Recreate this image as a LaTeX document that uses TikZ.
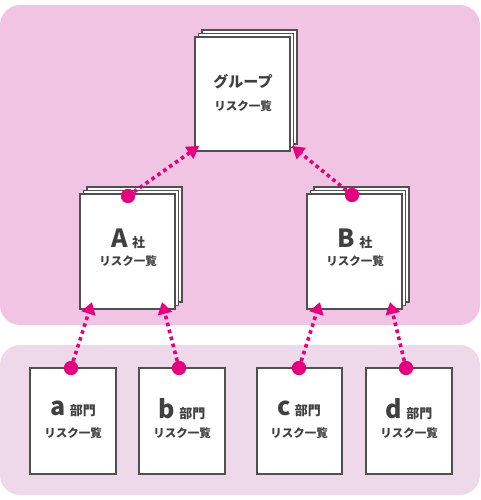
\documentclass[tikz,border=0pt]{standalone}
\usepackage{fontspec}
\setmainfont{Noto Sans CJK JP}
\usetikzlibrary{arrows.meta}
\definecolor{bgtop}{RGB}{240,196,226}
\definecolor{bgbot}{RGB}{237,217,234}
\definecolor{mag}{RGB}{228,0,127}
\definecolor{edge}{RGB}{80,80,80}
\definecolor{txt}{RGB}{64,64,64}
\tikzset{
  page/.style={draw=edge, line width=1.6pt, fill=white, inner sep=0pt},
  dotc/.style={circle, fill=mag, inner sep=0pt, minimum size=14pt},
  link/.style={mag, line width=3.6pt, dash pattern=on 3.6pt off 3.6pt, -{Triangle[length=12pt,width=14pt]}},
  mid/.style={font=\fontsize{15}{17}\selectfont\bfseries},
  small/.style={font=\fontsize{11.5}{13}\selectfont\bfseries},
}
\newcommand{\headlbl}[2]{\fontsize{25}{27}\selectfont\bfseries #1\hspace{4.5pt}\fontsize{13}{15}\selectfont #2}
\newcommand{\pstack}[5]{% name, x1, y1, x2, y2
  \draw[page] (#2+7,#3-7) rectangle (#4+7,#5-7);
  \draw[page] (#2+3.5,#3-3.5) rectangle (#4+3.5,#5-3.5);
  \draw[page] (#2,#3) rectangle (#4,#5);
  \coordinate (#1) at ({(#2+#4)/2},{(#3+#5)/2});
}
\begin{document}
\begin{tikzpicture}[x=1pt,y=-1pt]
\useasboundingbox (0,0) rectangle (480,500);
\fill[bgtop, rounded corners=20pt] (0,5) rectangle (480,325);
\fill[bgbot, rounded corners=20pt] (0,345) rectangle (480,495);

% group
\pstack{G}{195}{37}{290}{151}
\node[txt, mid] (Gt) at (243,82) {グループ};
\node[txt, small] (Gs) at (243,106) {リスク一覧};

% A and B
\pstack{A}{80}{194}{175}{309}
\node[txt] (At) at (128,239) {\headlbl{A}{社}};
\node[txt, small] (As) at (128,261) {リスク一覧};
\pstack{B}{307}{194}{402}{309}
\node[txt] (Bt) at (355,239) {\headlbl{B}{社}};
\node[txt, small] (Bs) at (355,261) {リスク一覧};

% bottom boxes
\draw[page] (30,368) rectangle (116,474);
\draw[page] (139,368) rectangle (225,474);
\draw[page] (257,368) rectangle (342,474);
\draw[page] (366,368) rectangle (452,474);
\node[txt] (at) at (73,409) {\headlbl{a}{部門}};
\node[txt, small] (as) at (73,433) {リスク一覧};
\node[txt] (bt) at (182,409) {\headlbl{b}{部門}};
\node[txt, small] (bs) at (182,433) {リスク一覧};
\node[txt] (ct) at (299,409) {\headlbl{c}{部門}};
\node[txt, small] (cs) at (299,433) {リスク一覧};
\node[txt] (dt) at (409,409) {\headlbl{d}{部門}};
\node[txt, small] (ds) at (409,433) {リスク一覧};

% tips
\coordinate (tGA) at (199,146);
\coordinate (tGB) at (292,146);
\coordinate (tAa) at (92,302);
\coordinate (tAb) at (162,302);
\coordinate (tBc) at (320,302);
\coordinate (tBd) at (390,302);

% dots
\node[dotc] (dA) at (128,196) {};
\node[dotc] (dB) at (352,195) {};
\node[dotc] (da) at (71,368) {};
\node[dotc] (db) at (179,368) {};
\node[dotc] (dc) at (299,368) {};
\node[dotc] (dd) at (406,368) {};

\draw[link] (dA.center) -- (tGA);
\draw[link] (dB.center) -- (tGB);
\draw[link] (da.center) -- (tAa);
\draw[link] (db.center) -- (tAb);
\draw[link] (dc.center) -- (tBc);
\draw[link] (dd.center) -- (tBd);
\node[dotc] at (dA) {};
\node[dotc] at (dB) {};
\node[dotc] at (da) {};
\node[dotc] at (db) {};
\node[dotc] at (dc) {};
\node[dotc] at (dd) {};
\end{tikzpicture}
\end{document}
